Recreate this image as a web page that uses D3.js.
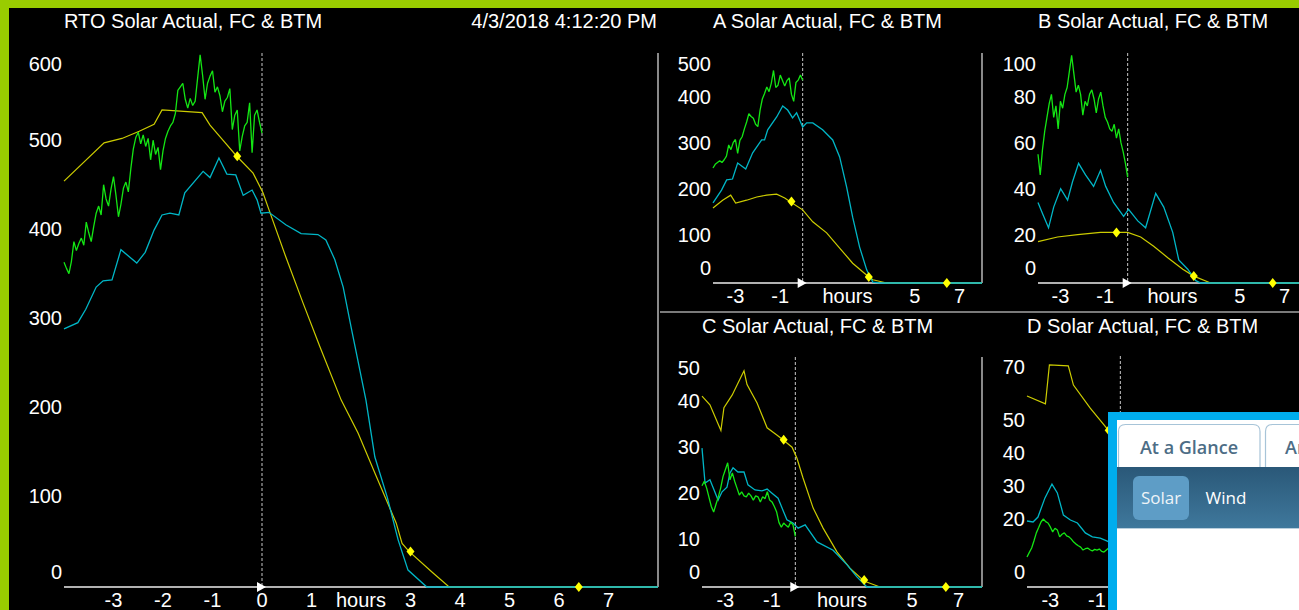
<!DOCTYPE html>
<html>
<head>
<meta charset="utf-8">
<script src="https://cdn.jsdelivr.net/npm/d3@7"></script>
<style>
  body { margin: 0; background: #000; overflow: hidden; }
  svg { display: block; font-family: Arial, "Liberation Sans", sans-serif; }
</style>
</head>
<body>
<svg id="svg" width="1299" height="610"></svg>
<script>
// 時刻ラベル
const stamp = "4/3/2018 4:12:20 PM";
const mainHourTicks = [-3, -2, -1, 0, 1, 2, 3, 4, 5, 6, 7];
const smallHourTicks = [-3, -1, 2, 5, 7];
const hoursLabelAt = 2;

// 実績は -4h から一定間隔
const actStart = -4;
const rtoActStep = 0.05;
const smallActStep = 0.1;

// RTO
const rtoYTicks = [0, 100, 200, 300, 400, 500, 600];
const rtoActual = [365,358,352,366,388,378,386,392,384,410, 398,388,405,420,428,418,452,436,428,447,
  461,440,416,430,448,455,444,470,492,505, 511,498,508,495,504,480,502,486,494,469,
  490,504,512,518,522,532,558,562,566,548, 538,549,541,546,572,598,575,548,566,574,
  580,556,562,552,534,546,550,560,514,530, 536,490,506,518,522,544,488,530,536,522, 510];
const rtoFc = [[-4,456],[-3.19,499],[-2.83,504],[-2.48,512],[-2.18,520],[-2.02,536],[-1.21,533],[-1.05,519],
  [-0.79,502],[-0.51,484],[-0.18,465],[0.02,443],[0.14,424],[0.48,371],[0.83,319],[1.17,270],[1.6,210],
  [1.94,173],[2.28,128],[2.71,72],[2.83,49],[2.97,40],[3.45,16],[3.78,0],[8,0]];
const rtoBtm = [[-4,290],[-3.72,297],[-3.56,312],[-3.35,337],[-3.21,344],[-3.03,345],[-2.85,379],[-2.53,364],
  [-2.36,376],[-2.18,401],[-2.02,418],[-1.86,420],[-1.68,418],[-1.56,443],[-1.19,467],[-1.05,460],[-0.87,482],
  [-0.71,464],[-0.53,463],[-0.38,440],[-0.2,446],[-0.1,435],[-0.02,420],[0.14,421],[0.48,407],[0.79,397],
  [1.13,396],[1.29,390],[1.47,368],[1.64,337],[1.8,292],[2.1,210],[2.28,146],[2.53,101],[2.75,53],[2.95,19],
  [3.33,0],[8,0]];
const rtoMarks = [[-0.5,484],[3.0,40],[6.4,0]];

// A
const aYTicks = [0, 100, 200, 300, 400, 500];
const aActual = [250,258,262,266,262,268,276,300,290,305, 312,282,310,318,335,350,368,362,358,345,
  340,376,400,412,426,416,434,462,425,430, 452,440,428,440,446,410,395,436,441,452, 441];
const aFc = [[-4,163],[-3.57,180],[-3.21,191],[-2.99,174],[-2.5,180],[-2.05,187],[-1.61,191],[-1.16,193],
  [-0.8,185],[-0.54,176],[0,159],[0.45,133],[1.07,109],[1.65,76],[2.23,43],[2.86,17],[3.13,7],[3.75,0],[8,0]];
const aBtm = [[-4,174],[-3.62,202],[-3.39,224],[-3.13,226],[-2.9,261],[-2.54,248],[-2.23,283],[-1.83,311],
  [-1.7,311],[-1.56,333],[-1.16,361],[-0.89,385],[-0.67,376],[-0.45,359],[-0.27,370],[0,339],[0.18,348],
  [0.45,348],[0.89,333],[1.34,311],[1.65,274],[1.96,209],[2.23,143],[2.54,78],[2.86,28],[3.13,2],[3.44,0],[8,0]];
const aMarks = [[-0.5,177],[2.95,13],[6.43,0]];

// B
const bYTicks = [0, 20, 40, 60, 80, 100];
const bActual = [56,47,58,66,72,78,82,72,77,67, 79,76,82,85,92,99,91,83,86,82,
  73,79,77,82,84,80,74,80,83,77, 72,70,67,66,69,63,67,61,57,52, 46];
const bFc = [[-4,18],[-3.13,20],[-2.23,21],[-1.21,22],[-0.49,22],[0,22],[0.58,20],[1.16,16],[1.79,11],
  [2.46,6],[2.95,3],[3.7,0],[8,0]];
const bBtm = [[-4,35],[-3.79,30],[-3.53,24],[-3.3,33],[-2.99,41],[-2.68,36],[-2.46,44],[-2.19,52],[-1.88,47],
  [-1.52,42],[-1.21,49],[-0.98,42],[-0.63,35],[-0.18,29],[0.04,32],[0.45,27],[0.8,24],[1.25,39],[1.61,33],
  [2.01,22],[2.28,10],[2.68,6],[3.04,1],[3.26,0],[8,0]];
const bMarks = [[-0.5,22],[2.95,3],[6.47,0]];

// C
const cYTicks = [0, 10, 20, 30, 40, 50];
const cActual = [22,23,21.5,19.5,17.5,16.3,18,19.6,21.5,24, 25.5,27,23.3,24.8,23,21.5,20,20.7,19.8,19.6,
  20.4,19.8,18.9,19.8,19.6,18.5,19.6,19.2,20.7,18.9, 18.5,17.5,16.3,14,13,13.9,13.4,13,14.1,13.5, 11];
const cFc = [[-4,41.5],[-3.66,39.6],[-3.19,34],[-3.06,39],[-2.71,41.7],[-2.2,47],[-2.07,44],[-1.64,40],
  [-1.21,34.6],[-0.78,33],[-0.53,32],[-0.14,30.4],[0.07,28],[0.33,23.7],[0.76,17.2],[1.19,12.8],[1.79,7.6],
  [2.34,4.1],[2.94,1.3],[3.63,0],[8,0]];
const cBtm = [[-4,30.2],[-3.87,22.6],[-3.66,23.3],[-3.53,21.7],[-3.31,18.9],[-3.14,20.7],[-2.93,21.7],
  [-2.8,24.8],[-2.67,25.9],[-2.46,25],[-2.2,25],[-2.03,22.2],[-1.73,21.1],[-1.43,20.9],[-1.21,21.3],[-1,20.4],
  [-0.74,19.3],[-0.53,16.7],[-0.36,14.6],[-0.1,13.9],[0.12,12.8],[0.42,13.5],[0.93,9.8],[1.62,8],[2.22,4.8],
  [2.64,2.2],[3.07,0],[8,0]];
const cMarks = [[-0.5,32],[2.95,1.5],[6.45,0]];

// D
const dYTicks = [0, 20, 30, 40, 50, 70];
const dActual = [9.1,10.5,11.8,14,16.4,18,19.7,20.6,19.8,19.4, 18.2,16.7,17.8,17.3,15.2,16,16.4,15.5,15.2,14.5,
  13.6,13,12.5,12.1,11.2,11.6,11.8,11.3,10.9,11.4, 11.2,11.5,10.8,10.6,11.2,11.8,11.5,12,11.4,11.8, 11.2];
const dFc = [[-4,57.9],[-3.21,55.5],[-3.04,67.3],[-2.23,67],[-2.01,61.2],[-1.29,54.2],[-0.56,47.9],[0,40],
  [0.5,30],[1,21],[1.5,13],[2,7],[2.5,3],[3,1],[3.7,0],[8,0]];
const dBtm = [[-4,20],[-3.74,19.7],[-3.53,21.2],[-3.23,27],[-2.93,31.2],[-2.7,28.5],[-2.44,21.8],[-2.14,20.3],
  [-1.84,19.4],[-1.5,16.4],[-1.2,15.2],[-0.86,14.8],[-0.56,13.9],[0,12],[1,7],[2,2.5],[3,0],[8,0]];
const dMarks = [[-0.5,47.5],[2.95,1],[6.45,0]];

// 色
const colFc = "#cccc00";
const colBtm = "#00b6c6";
const colAct = "#14e614";
const frameGreen = "#99cc00";
const fs = 20;

const svg = d3.select("#svg");
svg.append("rect").attr("width", 1299).attr("height", 610).attr("fill", "#000");

//パネル描画
function drawPanel(p) {
  const x = d3.scaleLinear().domain([-4, 8]).range([p.x0, p.x1]);
  const y = d3.scaleLinear().domain([0, p.yMax]).range([p.yBot, p.yTop]);
  const g = svg.append("g");
  const line = d3.line().x((d) => x(d[0])).y((d) => y(d[1]));

  g.append("text")
    .attr("x", p.x0)
    .attr("y", p.titleY)
    .attr("fill", "#fff")
    .attr("font-size", fs)
    .text(p.title);

  //右枠
  g.append("line")
    .attr("x1", p.x1).attr("x2", p.x1)
    .attr("y1", p.yTop).attr("y2", p.yBot)
    .attr("stroke", "#e6e6e6").attr("stroke-width", 1.2);

  //現在時刻の点線
  g.append("line")
    .attr("x1", x(0)).attr("x2", x(0))
    .attr("y1", p.yTop).attr("y2", p.yBot)
    .attr("stroke", "#c8c8c8").attr("stroke-width", 1)
    .attr("stroke-dasharray", "3,2");

  //横軸
  g.append("line")
    .attr("x1", p.x0).attr("x2", p.x1)
    .attr("y1", p.yBot).attr("y2", p.yBot)
    .attr("stroke", "#ececec").attr("stroke-width", 1.5);
  const ax = x(0);
  g.append("path")
    .attr("d", `M${ax - 5},${p.yBot - 5} L${ax + 4},${p.yBot} L${ax - 5},${p.yBot + 5} Z`)
    .attr("fill", "#fff");

  g.selectAll(".xl")
    .data(p.xTicks)
    .join("text")
    .attr("x", (d) => x(d))
    .attr("y", p.yBot + 20)
    .attr("text-anchor", "middle")
    .attr("fill", "#fff")
    .attr("font-size", fs)
    .text((d) => (d === hoursLabelAt ? "hours" : String(d)));

  g.selectAll(".yl")
    .data(p.yTicks)
    .join("text")
    .attr("x", p.x0 - 2)
    .attr("y", (d) => Math.max(p.yTop + 11, Math.min(p.yBot - 15, y(d) - 2)) + 7)
    .attr("text-anchor", "end")
    .attr("fill", "#fff")
    .attr("font-size", fs)
    .text((d) => d);

  //系列
  g.append("path").attr("d", line(p.fc)).attr("fill", "none")
    .attr("stroke", colFc).attr("stroke-width", 1.2);
  g.append("path").attr("d", line(p.btm)).attr("fill", "none")
    .attr("stroke", colBtm).attr("stroke-width", 1.3);
  const act = p.actual.map((v, i) => [actStart + i * p.step, v]);
  g.append("path").attr("d", line(act)).attr("fill", "none")
    .attr("stroke", colAct).attr("stroke-width", 1.3).attr("stroke-linejoin", "bevel");

  g.selectAll(".mk")
    .data(p.marks)
    .join("path")
    .attr("d", (d) => {
      const cx = x(d[0]), cy = y(d[1]);
      return `M${cx},${cy - 5} L${cx + 4},${cy} L${cx},${cy + 5} L${cx - 4},${cy} Z`;
    })
    .attr("fill", "#ffff00");
}

drawPanel({ title: "RTO Solar Actual, FC & BTM", titleY: 28, x0: 64, x1: 658, yTop: 53, yBot: 587,
  yMax: 600, yTicks: rtoYTicks, xTicks: mainHourTicks, actual: rtoActual, step: rtoActStep,
  fc: rtoFc, btm: rtoBtm, marks: rtoMarks });
drawPanel({ title: "A Solar Actual, FC & BTM", titleY: 28, x0: 713, x1: 982, yTop: 53, yBot: 283,
  yMax: 500, yTicks: aYTicks, xTicks: smallHourTicks, actual: aActual, step: smallActStep,
  fc: aFc, btm: aBtm, marks: aMarks });
drawPanel({ title: "B Solar Actual, FC & BTM", titleY: 28, x0: 1038, x1: 1307, yTop: 53, yBot: 283,
  yMax: 100, yTicks: bYTicks, xTicks: smallHourTicks, actual: bActual, step: smallActStep,
  fc: bFc, btm: bBtm, marks: bMarks });
drawPanel({ title: "C Solar Actual, FC & BTM", titleY: 333, x0: 702, x1: 982, yTop: 357, yBot: 587,
  yMax: 50, yTicks: cYTicks, xTicks: smallHourTicks, actual: cActual, step: smallActStep,
  fc: cFc, btm: cBtm, marks: cMarks });
drawPanel({ title: "D Solar Actual, FC & BTM", titleY: 333, x0: 1027, x1: 1307, yTop: 356, yBot: 587,
  yMax: 70, yTicks: dYTicks, xTicks: smallHourTicks, actual: dActual, step: smallActStep,
  fc: dFc, btm: dBtm, marks: dMarks });

//日時
svg.append("text").attr("x", 657).attr("y", 28).attr("text-anchor", "end")
  .attr("fill", "#fff").attr("font-size", fs).text(stamp);

//区切り線
svg.append("line").attr("x1", 660).attr("x2", 1299).attr("y1", 312).attr("y2", 312)
  .attr("stroke", "#7a7a7a").attr("stroke-width", 2);

//外枠（緑）
svg.append("rect").attr("x", 0).attr("y", 0).attr("width", 1299).attr("height", 8).attr("fill", frameGreen);
svg.append("rect").attr("x", 0).attr("y", 0).attr("width", 9).attr("height", 610).attr("fill", frameGreen);

//右下のウィジェット
const defs = svg.append("defs");
const grad = defs.append("linearGradient").attr("id", "barGrad").attr("x1", 0).attr("y1", 0).attr("x2", 0).attr("y2", 1);
grad.append("stop").attr("offset", "0%").attr("stop-color", "#2a5878");
grad.append("stop").attr("offset", "100%").attr("stop-color", "#3f789c");
defs.append("clipPath").attr("id", "wclip")
  .append("rect").attr("x", 1108).attr("y", 412).attr("width", 191).attr("height", 198);

const wg = svg.append("g").attr("clip-path", "url(#wclip)")
  .attr("font-family", "'Open Sans', 'Noto Sans', sans-serif");
wg.append("rect").attr("x", 1108).attr("y", 412).attr("width", 200).attr("height", 210).attr("fill", "#00adee");
wg.append("rect").attr("x", 1117).attr("y", 420).attr("width", 190).attr("height", 200).attr("fill", "#fff");

function tabPath(x0, x1, y0, y1, r) {
  return `M${x0},${y1} V${y0 + r} Q${x0},${y0} ${x0 + r},${y0} H${x1 - r} Q${x1},${y0} ${x1},${y0 + r} V${y1}`;
}
wg.append("path").attr("d", tabPath(1118.5, 1260, 424.5, 468, 7)).attr("fill", "#fff")
  .attr("stroke", "#a7c4d8").attr("stroke-width", 1.2);
wg.append("path").attr("d", tabPath(1265.5, 1360, 424.5, 468, 7)).attr("fill", "#fff")
  .attr("stroke", "#a7c4d8").attr("stroke-width", 1.2);
wg.append("text").attr("x", 1189).attr("y", 454).attr("text-anchor", "middle")
  .attr("fill", "#4d6d86").attr("font-size", 18).attr("font-weight", 600).text("At a Glance");
wg.append("text").attr("x", 1285).attr("y", 454)
  .attr("fill", "#4d6d86").attr("font-size", 18).attr("font-weight", 600).text("Ar");

wg.append("rect").attr("x", 1117).attr("y", 467).attr("width", 190).attr("height", 61).attr("fill", "url(#barGrad)");
wg.append("line").attr("x1", 1117).attr("x2", 1299).attr("y1", 528.5).attr("y2", 528.5)
  .attr("stroke", "#b9cfdd").attr("stroke-width", 1);
wg.append("rect").attr("x", 1133).attr("y", 476).attr("width", 56).attr("height", 44).attr("rx", 6)
  .attr("fill", "#5e9dc6");
wg.append("text").attr("x", 1161).attr("y", 504).attr("text-anchor", "middle")
  .attr("fill", "#eef4f8").attr("font-size", 17).attr("font-weight", 500).text("Solar");
wg.append("text").attr("x", 1226).attr("y", 504).attr("text-anchor", "middle")
  .attr("fill", "#ffffff").attr("font-size", 17).attr("font-weight", 500).text("Wind");
</script>
</body>
</html>
